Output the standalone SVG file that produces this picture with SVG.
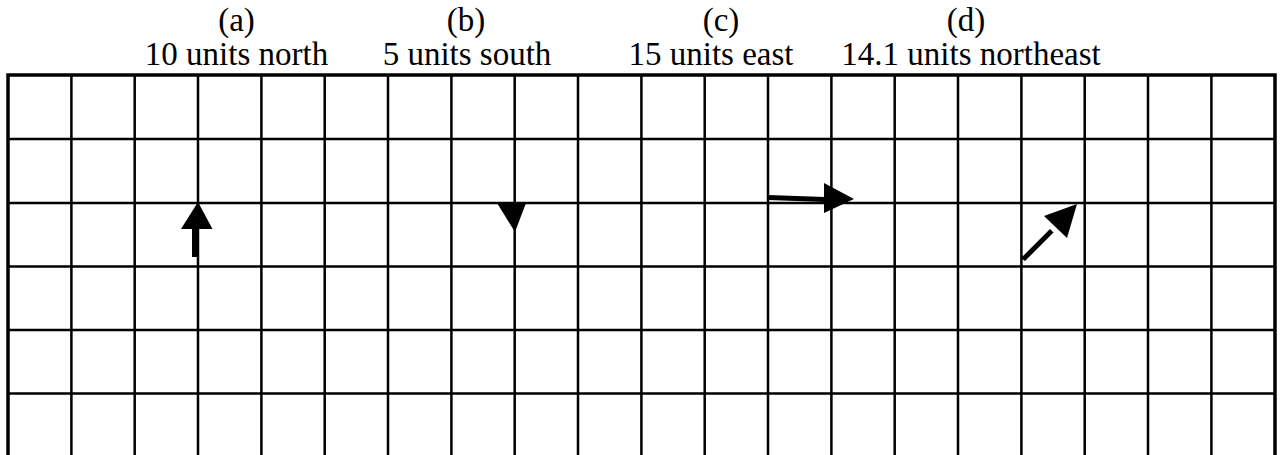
<svg xmlns="http://www.w3.org/2000/svg" width="1282" height="455" viewBox="0 0 1282 455">
<style>
.lbl{font-family:"Liberation Serif","Times New Roman",serif;font-size:33px;fill:#000;text-anchor:middle}
.g{stroke:#000;stroke-width:2.5;fill:none}
.b{stroke:#000;stroke-width:3.5;fill:none}
.arr{fill:#000;stroke:none}
</style>
<rect width="1282" height="455" fill="#fff"/>
<g id="grid">
<path class="g" d="M71.4 75V455M134.7 75V455M198 75V455M261.4 75V455M324.7 75V455M388 75V455M451.4 75V455M514.7 75V455M578 75V455M641.4 75V455M704.7 75V455M768 75V455M831.4 75V455M894.7 75V455M958 75V455M1021.4 75V455M1084.7 75V455M1148 75V455M1211.4 75V455"/>
<path class="g" d="M8 139H1275M8 203H1275M8 266.5H1275M8 330H1275M8 393.5H1275"/>
<path class="b" d="M8 455V75H1275V455"/>
</g>
<g id="labels">
<text class="lbl" x="236.5" y="31">(a)</text>
<text class="lbl" x="236.5" y="65">10 units north</text>
<text class="lbl" x="466" y="31">(b)</text>
<text class="lbl" x="467" y="65">5 units south</text>
<text class="lbl" x="721" y="31">(c)</text>
<text class="lbl" x="711" y="65">15 units east</text>
<text class="lbl" x="966" y="31">(d)</text>
<text class="lbl" x="971" y="65">14.1 units northeast</text>
</g>
<g id="connectors">
<g id="arrow-a"><polygon class="arr" points="192,257 197,257 197,228 192,228"/><polygon class="arr" points="198,202 212.5,229 181,229"/></g>
<g id="arrow-b"><polygon class="arr" points="497,203 526,203 515,232"/></g>
<g id="arrow-c"><polygon class="arr" points="768,195 825,197 825,202 768,200"/><polygon class="arr" points="824,183 854,199 824,213"/></g>
<g id="arrow-d"><polygon class="arr" points="1021,258 1050,229 1053.5,232.5 1025,261"/><polygon class="arr" points="1077,204 1067,238 1044,216"/></g>
</g>
</svg>
